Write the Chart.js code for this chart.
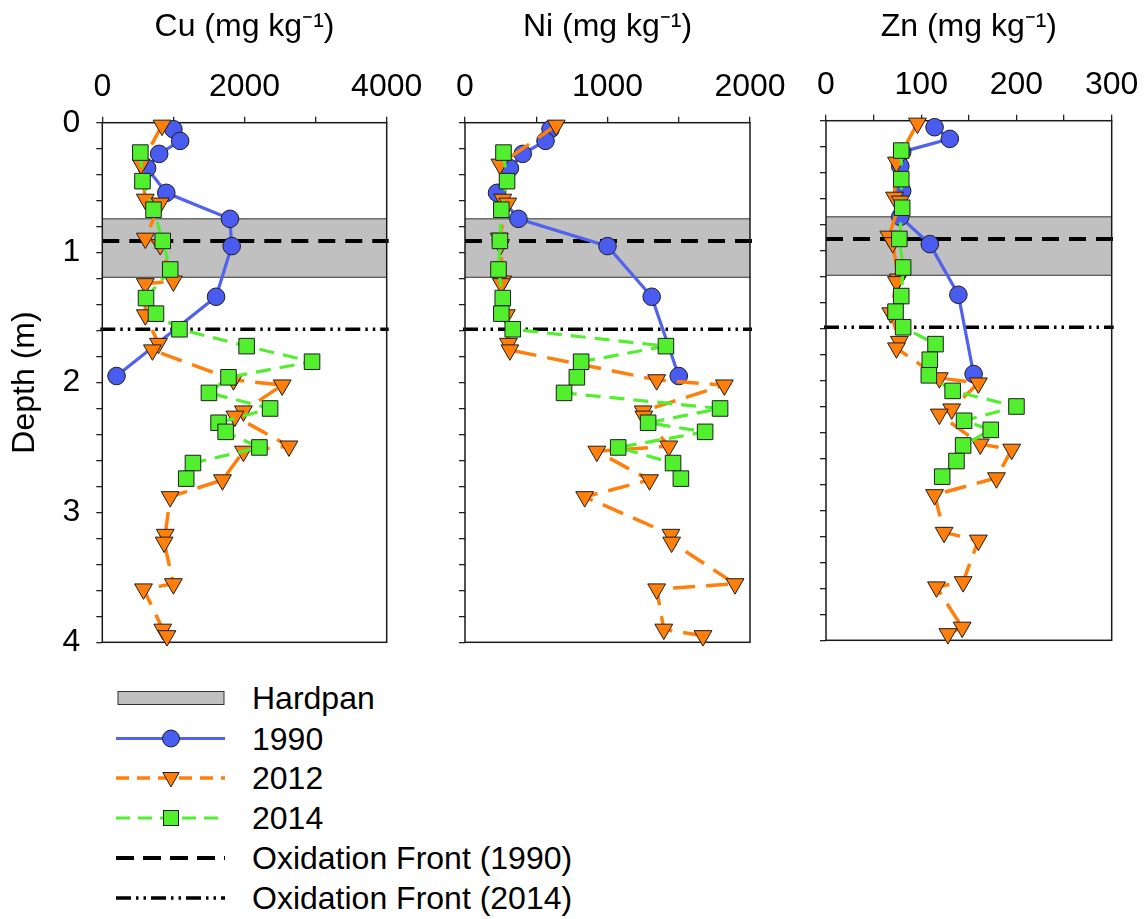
<!DOCTYPE html>
<html>
<head>
<meta charset="utf-8">
<script src="https://cdn.jsdelivr.net/npm/chart.js@4.4.1/dist/chart.umd.min.js"></script>
<style>
  body { margin: 0; background: #fff; width: 1148px; height: 919px; position: relative; overflow: hidden;
         font-family: "Liberation Sans", Arial, sans-serif; }
  canvas { position: absolute; top: 0; }
  #legend { position: absolute; left: 0; top: 0; }
  .lg-text { position: absolute; left: 252px; font-size: 32px; line-height: 40px; color: #000; white-space: nowrap; }
</style>
</head>
<body>
<canvas id="cu" width="430" height="660" style="left:0px"></canvas>
<canvas id="ni" width="390" height="660" style="left:410px"></canvas>
<canvas id="zn" width="378" height="660" style="left:770px"></canvas>
<svg id="legend" width="240" height="919"></svg>

<script>
// sampling depths (m) per campaign
const DEPTH_1990 = [0.05, 0.14, 0.24, 0.35, 0.54, 0.74, 0.95, 1.34, 1.95];
const DEPTH_2012 = [0.02, 0.32, 0.59, 0.62, 0.89, 0.94, 1.22, 1.24, 1.48, 1.70, 1.75, 1.98, 2.02,
                    2.22, 2.26, 2.49, 2.53, 2.75, 2.88, 3.17, 3.23, 3.55, 3.59, 3.90, 3.95];
const DEPTH_2014 = [0.23, 0.45, 0.67, 0.91, 1.13, 1.35, 1.47, 1.59, 1.72, 1.84, 1.96, 2.08, 2.20,
                    2.31, 2.38, 2.50, 2.62, 2.74];

// concentrations, mg/kg
const CU_1990 = [1000, 1095, 800, 630, 900, 1795, 1820, 1600, 200];
const CU_2012 = [840, 545, 605, 815, 605, 815, 1000, 605, 605, 790, 705, 1845, 2530,
                 1985, 1865, 2625, 1985, 1690, 955, 885, 870, 1000, 580, 850, 910];
const CU_2014 = [535, 565, 720, 850, 955, 615, 755, 1085, 2030, 2950, 1775, 1500, 2360,
                 1635, 1735, 2210, 1275, 1180];

const NI_1990 = [600, 565, 405, 315, 225, 375, 1000, 1310, 1500];
const NI_2012 = [640, 245, 265, 300, 240, 250, 265, 255, 290, 305, 315, 1345, 1820,
                 1250, 1255, 1430, 925, 1295, 840, 1445, 1450, 1895, 1345, 1395, 1670];
const NI_2014 = [270, 295, 255, 245, 235, 265, 255, 335, 1410, 815, 785, 695, 1790,
                 1285, 1685, 1075, 1460, 1515];

const ZN_1990 = [114, 130, 80, 78, 80, 78, 109, 139, 155];
const ZN_2012 = [96, 74, 72, 78, 66, 70, 76, 74, 68, 77, 74, 119, 160,
                 132, 119, 162, 195, 179, 114, 124, 160, 144, 116, 143, 128];
const ZN_2014 = [79, 79, 80, 77, 81, 79, 73, 81, 115, 109, 108, 133, 200,
                 145, 173, 144, 137, 122];

const HARDPAN = [0.74, 1.19];
const FRONT_1990 = 0.91;
const FRONT_2014 = 1.59;

const BLUE = '#5062ee', ORANGE = '#ff7f0a', GREEN = '#52ef2e', EDGE = '#1e1e1e';
const DASH_1990_FRONT = [17, 10];
const DASH_2014_FRONT = [15, 5, 2.5, 5, 2.5, 5];

Chart.defaults.font.family = '"Liberation Sans", Arial, sans-serif';
Chart.defaults.color = '#000';

function zip(depths, vals) {
  return depths.map((d, i) => ({ x: vals[i], y: d }));
}

function isMultiple(v, step) {
  return Math.abs(v / step - Math.round(v / step)) < 1e-6;
}

// hardpan band, oxidation fronts and plot frame, under the data
const overlays = {
  id: 'overlays',
  beforeDatasetsDraw(chart) {
    const { ctx, chartArea: a, scales: { y } } = chart;
    const t = y.getPixelForValue(HARDPAN[0]);
    const b = y.getPixelForValue(HARDPAN[1]);
    ctx.save();
    ctx.fillStyle = '#c0c0c0';
    ctx.fillRect(a.left, t, a.width, b - t);
    ctx.strokeStyle = '#333';
    ctx.lineWidth = 1;
    ctx.beginPath();
    ctx.moveTo(a.left, t); ctx.lineTo(a.right, t);
    ctx.moveTo(a.left, b); ctx.lineTo(a.right, b);
    ctx.stroke();

    ctx.strokeStyle = '#000';
    ctx.lineWidth = 4;
    ctx.setLineDash(DASH_1990_FRONT);
    let fy = y.getPixelForValue(FRONT_1990);
    ctx.beginPath(); ctx.moveTo(a.left, fy); ctx.lineTo(a.right + 2, fy); ctx.stroke();

    ctx.lineWidth = 3.5;
    ctx.setLineDash(DASH_2014_FRONT);
    fy = y.getPixelForValue(FRONT_2014);
    ctx.beginPath(); ctx.moveTo(a.left - 2, fy); ctx.lineTo(a.right + 2, fy); ctx.stroke();

    ctx.setLineDash([]);
    ctx.strokeStyle = '#1a1a1a';
    ctx.lineWidth = 1.5;
    ctx.strokeRect(a.left, a.top, a.width, a.height);
    ctx.restore();
  }
};

function panel(id, metal, v1990, v2012, v2014, xMax, xStep, labelStep, box) {
  const axisGrid = { drawOnChartArea: false, tickLength: 6, color: '#222', lineWidth: 1.3 };
  return new Chart(document.getElementById(id), {
    type: 'scatter',
    data: {
      datasets: [
        {
          label: '1990', data: zip(DEPTH_1990, v1990), showLine: true, order: 3,
          borderColor: BLUE, borderWidth: 3.2,
          pointStyle: 'circle', pointRadius: 8.8, pointBackgroundColor: '#4a5bf0',
          pointBorderColor: EDGE, pointBorderWidth: 1
        },
        {
          label: '2012', data: zip(DEPTH_2012, v2012), showLine: true, order: 2,
          borderColor: ORANGE, borderWidth: 3.5, borderDash: [22, 11],
          pointStyle: 'triangle', pointRotation: 180, pointRadius: 10.3,
          pointBackgroundColor: ORANGE, pointBorderColor: EDGE, pointBorderWidth: 1
        },
        {
          label: '2014', data: zip(DEPTH_2014, v2014), showLine: true, order: 1,
          borderColor: GREEN, borderWidth: 3.2, borderDash: [15, 9],
          pointStyle: 'rect', pointRadius: 11,
          pointBackgroundColor: GREEN, pointBorderColor: EDGE, pointBorderWidth: 1
        }
      ]
    },
    options: {
      responsive: false,
      animation: false,
      devicePixelRatio: 1,
      clip: false,
      layout: { padding: { left: 0, top: 0, right: box.padRight, bottom: box.padBottom } },
      plugins: { legend: { display: false }, tooltip: { enabled: false } },
      scales: {
        x: {
          type: 'linear', position: 'top', min: 0, max: xMax,
          ticks: {
            stepSize: xStep, autoSkip: false, maxRotation: 0, minRotation: 0,
            padding: box.tickPad, font: { size: 32 }, color: '#000',
            callback: v => isMultiple(v, labelStep) ? String(v) : ''
          },
          grid: axisGrid,
          border: { display: false },
          title: {
            display: true, text: metal + ' (mg kg\u207B\u00B9)', color: '#000',
            font: { size: 32 }, padding: { top: box.titlePad, bottom: 0 }
          },
          afterFit(s) { s.height = box.top; s.paddingLeft = 0; s.paddingRight = 0; }
        },
        y: {
          type: 'linear', reverse: true, min: 0, max: 4,
          ticks: {
            stepSize: 0.2, autoSkip: false, padding: 16, font: { size: 32 }, color: '#000',
            callback: v => box.showDepth && isMultiple(v, 1) ? String(Math.round(v)) : ''
          },
          grid: axisGrid,
          border: { display: false },
          title: {
            display: box.showDepth, text: 'Depth (m)', color: '#000',
            font: { size: 32 }, padding: { top: 6, bottom: 0 }
          },
          afterFit(s) { s.width = box.left; s.paddingTop = 0; s.paddingBottom = 0; }
        }
      }
    },
    plugins: [overlays]
  });
}

panel('cu', 'Cu', CU_1990, CU_2012, CU_2014, 4000, 1000, 2000,
      { left: 102.3, top: 122.7, padRight: 43.3, padBottom: 17.7, tickPad: 10.5, titlePad: 8, showDepth: true });
panel('ni', 'Ni', NI_1990, NI_2012, NI_2014, 2000, 500, 1000,
      { left: 55, top: 122.7, padRight: 50, padBottom: 17.7, tickPad: 10.5, titlePad: 8, showDepth: false });
panel('zn', 'Zn', ZN_1990, ZN_2012, ZN_2014, 300, 50, 100,
      { left: 56, top: 120.7, padRight: 36.3, padBottom: 19.7, tickPad: 10.5, titlePad: 8, showDepth: false });

// legend: swatches in SVG, labels as text
const LEGEND_LABELS = ['Hardpan', '1990', '2012', '2014', 'Oxidation Front (1990)', 'Oxidation Front (2014)'];
const LEGEND_ROWS = [698, 738.5, 778, 818, 858, 898];
const svg = document.getElementById('legend');
const NS = 'http://www.w3.org/2000/svg';
function el(tag, attrs) {
  const e = document.createElementNS(NS, tag);
  for (const k in attrs) e.setAttribute(k, attrs[k]);
  svg.appendChild(e);
  return e;
}
function line(y, color, width, dash) {
  el('line', { x1: 116, x2: 225, y1: y, y2: y, stroke: color, 'stroke-width': width,
               'stroke-dasharray': dash ? dash.join(' ') : 'none' });
}
const mx = 171;
let ry = LEGEND_ROWS[0];
el('rect', { x: 118, y: ry - 6.5, width: 106, height: 13, fill: '#c0c0c0', stroke: '#333', 'stroke-width': 1 });
ry = LEGEND_ROWS[1];
line(ry, BLUE, 3);
el('circle', { cx: mx, cy: ry, r: 8.5, fill: '#4a5bf0', stroke: EDGE, 'stroke-width': 1 });
ry = LEGEND_ROWS[2];
line(ry, ORANGE, 3.5, [13, 8]);
el('polygon', { points: `${mx - 8.2},${ry - 5.5} ${mx + 8.2},${ry - 5.5} ${mx},${ry + 9}`,
                fill: ORANGE, stroke: EDGE, 'stroke-width': 1 });
ry = LEGEND_ROWS[3];
line(ry, GREEN, 3, [14, 8]);
el('rect', { x: mx - 7.5, y: ry - 7.5, width: 15, height: 15, fill: GREEN, stroke: EDGE, 'stroke-width': 1 });
line(LEGEND_ROWS[4], '#000', 4, [18, 9]);
line(LEGEND_ROWS[5], '#000', 3.5, DASH_2014_FRONT);

LEGEND_LABELS.forEach((txt, i) => {
  const d = document.createElement('div');
  d.className = 'lg-text';
  d.style.top = (LEGEND_ROWS[i] - 19.6) + 'px';
  d.textContent = txt;
  document.body.appendChild(d);
});
</script>
</body>
</html>
